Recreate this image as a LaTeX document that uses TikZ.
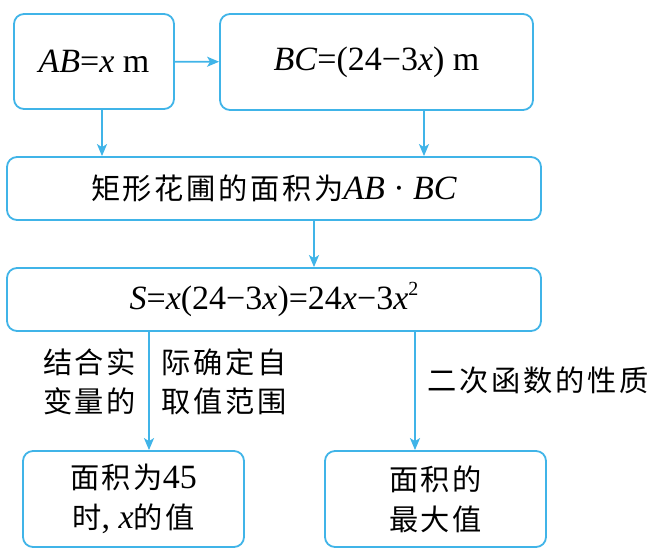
\documentclass[tikz,border=0pt]{standalone}
\usepackage{fontspec}
\setmainfont{Liberation Serif}
\newfontfamily\cjk[Scale=0.86,LetterSpace=9]{Noto Sans CJK SC}
\usetikzlibrary{arrows.meta}
\definecolor{flowblue}{RGB}{64,180,232}
\newcommand{\zh}[1]{{\cjk #1}}
\newcommand{\sq}{\raisebox{0.42em}{\fontsize{10}{10}\selectfont 2}}

\begin{document}
\begin{tikzpicture}[x=0.5pt,y=-0.5pt,
  box/.style={draw=flowblue, line width=0.9pt, rounded corners=5pt, inner sep=0pt, align=center, font=\fontsize{17}{20}\selectfont},
  arr/.style={flowblue, line width=0.9pt, -{Stealth[length=6pt,width=5pt,inset=1.5pt]}},
  lbl/.style={inner sep=6pt, text=black, font=\fontsize{17}{19.5}\selectfont}]
\useasboundingbox (0,0) rectangle (665,554);
\node[box, minimum width=80pt, minimum height=47.5pt] (ab) at (94,61.5) {\textit{AB}=\textit{x} m};
\node[box, minimum width=156.5pt, minimum height=48pt] (bc) at (376.5,62) {\textit{BC}=(24−3\textit{x}) m};
\node[box, minimum width=267pt, minimum height=31.5pt] (area) at (274,188.5) {\zh{矩形花圃的面积为}\textit{AB}\ ·\ \textit{BC}};
\node[box, minimum width=267pt, minimum height=31.5pt] (func) at (274,299.5) {\textit{S}=\textit{x}(24−3\textit{x})=24\textit{x}−3\textit{x}\sq};
\node[box, minimum width=110.5pt, minimum height=48pt] (val) at (133.5,499) {\zh{面积为}45\\\zh{时}, \textit{x}\zh{的值}};
\node[box, minimum width=110.5pt, minimum height=48pt] (max) at (435.5,499) {\zh{面积的}\\\zh{最大值}};
\draw[arr] (ab) -- (bc);
\draw[arr] ([xshift=4pt]ab.south) -- ([xshift=4pt]ab.south |- area.north);
\draw[arr] ([xshift=23.75pt]bc.south) -- ([xshift=23.75pt]bc.south |- area.north);
\draw[arr] ([xshift=20pt]area.south) -- ([xshift=20pt]area.south |- func.north);
\draw[arr] ([xshift=7.75pt]val.north |- func.south) -- node[lbl, pos=.425, left, align=right] (fix) {\zh{结合实}\\\zh{变量的}} node[lbl, pos=.425, right, align=left] (range) {\zh{际确定自}\\\zh{取值范围}} ([xshift=7.75pt]val.north);
\draw[arr] ([xshift=-10.25pt]max.north |- func.south) -- node[lbl, pos=.41, right] (prop) {\zh{二次函数的性质}} ([xshift=-10.25pt]max.north);
\end{tikzpicture}
\end{document}
